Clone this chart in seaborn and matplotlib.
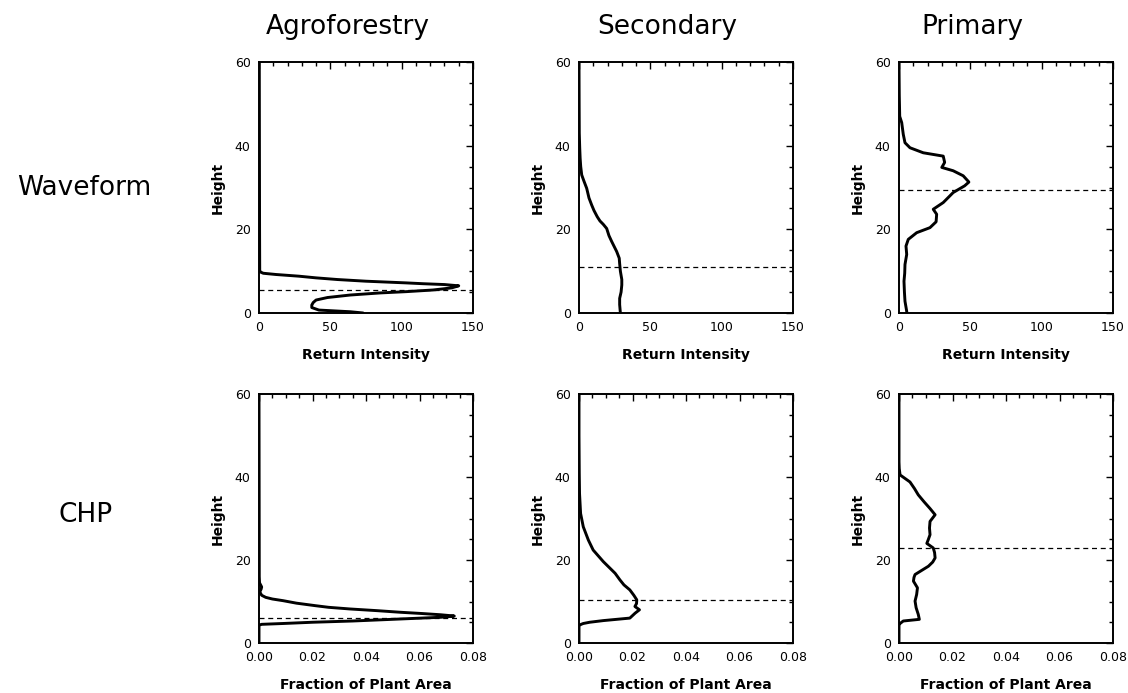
import matplotlib
matplotlib.use("Agg")
import matplotlib.pyplot as plt
import seaborn as sns
from matplotlib.ticker import MultipleLocator, FormatStrFormatter

# ---------------------------------------------------------
# Data (value, height) profiles
# ---------------------------------------------------------
columns = ["Agroforestry", "Secondary", "Primary"]
rows = ["Waveform", "CHP"]

# Waveform: return intensity by height
agro_wave_h = [0, 0.3, 0.7, 1.3, 1.9, 2.5, 3.1, 3.7, 4.3, 4.8, 5.1, 5.5, 6.0, 6.5, 6.8,
               7.0, 7.2, 7.6, 8.0, 8.4, 8.8, 9.2, 9.5, 9.8, 10.2, 20, 40, 60]
agro_wave_v = [73, 64, 42, 37, 37, 38, 40, 48, 64, 85, 103, 122, 135, 140, 130,
               115, 103, 75, 55, 40, 28, 12, 3, 1, 0.5, 0.4, 0.3, 0.2]

sec_wave_h = [0, 2, 3.5, 5, 6.7, 8, 10, 11.8, 13.1, 14.7, 16, 17.1, 18.5, 20.2, 21.2,
              22, 23, 24.5, 25.8, 27.5, 29.8, 31.5, 33, 35, 37, 39.5, 43, 50, 60]
sec_wave_v = [29, 28.5, 28.5, 29.5, 30, 30, 29, 28.5, 28.2, 26.4, 24.5, 22.9, 21, 19.4, 17,
              14.7, 12.8, 10.5, 8.9, 7, 5.4, 3.5, 1.9, 1.2, 0.8, 0.5, 0.2, 0.1, 0]

prim_wave_h = [0, 0.4, 2.8, 5, 7.6, 9.5, 11.6, 14, 16, 17.6, 19.2, 20.4, 21.8, 23.6, 24.8,
               26.4, 28.8, 30.4, 31.3, 32.8, 34, 34.8, 36, 37.5, 38.3, 39.5, 40.7, 42.7,
               45.5, 47, 52, 60]
prim_wave_v = [5.5, 5.4, 4.2, 3.8, 3.5, 4, 4.2, 5.4, 4.9, 6.5, 12.4, 21.7, 26, 26.4, 24,
               31, 38, 46, 49, 45, 38, 30, 32, 31, 17, 7.7, 4.2, 3,
               1.9, 0.5, 0.2, 0]

# CHP: fraction of plant area by height
agro_chp_h = [0, 4.3, 4.5, 4.7, 5.0, 5.3, 5.6, 5.9, 6.2, 6.5, 6.8, 7.1, 7.4, 7.8, 8.2,
              8.6, 9.0, 9.6, 10.2, 10.6, 11, 11.5, 12.3, 13, 13.5, 14, 14.5, 16, 60]
agro_chp_v = [0, 0, 0.001, 0.009, 0.02, 0.035, 0.046, 0.057, 0.068, 0.073, 0.068, 0.061,
              0.053, 0.044, 0.034, 0.026, 0.021, 0.014, 0.009, 0.005, 0.0025, 0.001,
              0.0003, 0.0008, 0.001, 0.0006, 0.0002, 0.0001, 0]

sec_chp_h = [0, 4.2, 4.5, 4.7, 5.0, 5.4, 6.0, 7.2, 8.0, 8.8, 9.5, 10.4, 11.5, 12.8, 14,
             15.2, 16.8, 18.2, 19.6, 21, 22.4, 24.8, 28, 31.2, 36, 40.8, 50, 60]
sec_chp_v = [0, 0, 0.0008, 0.0016, 0.004, 0.0091, 0.019, 0.021, 0.0226, 0.0209, 0.0215,
             0.0216, 0.0205, 0.019, 0.0168, 0.0153, 0.0135, 0.0113, 0.0091, 0.0072,
             0.0053, 0.0035, 0.0016, 0.0006, 0.0002, 0.0001, 0, 0]

prim_chp_h = [0, 4.5, 4.7, 5.3, 5.7, 6.9, 8.5, 10.1, 11.7, 13.3, 14.9, 15.8, 16.5, 17.5,
              18.5, 19.5, 20.5, 21.8, 22.9, 24.0, 25, 26.1, 27.7, 29.3, 30.9, 32.4, 34,
              35.7, 37.2, 38.8, 40.5, 42, 43.6, 50, 60]
prim_chp_v = [0, 0, 0.0004, 0.0016, 0.0076, 0.0072, 0.0064, 0.006, 0.0066, 0.0069, 0.0054,
              0.0056, 0.006, 0.0085, 0.011, 0.0126, 0.0135, 0.0133, 0.0128, 0.0104, 0.011,
              0.0116, 0.0114, 0.0116, 0.0135, 0.0116, 0.0094, 0.0072, 0.0058, 0.0041,
              0.0004, 0.0001, 0, 0, 0]

# Dashed reference heights
wave_mean_h = [5.5, 10.9, 29.4]
chp_mean_h = [6.0, 10.4, 22.9]

# ---------------------------------------------------------
# Plot
# ---------------------------------------------------------
sns.set_style("white", rc={"text.color": "black", "axes.labelcolor": "black",
                           "xtick.color": "black", "ytick.color": "black",
                           "axes.edgecolor": "black"})
plt.rcParams['font.family'] = ['DejaVu Sans']

fig = plt.figure(figsize=(11.28, 6.93), dpi=100)
W, H = 1128, 693

col_left = [259, 579, 899]
panel_w = 214
row_box = [(62, 313), (394, 643)]  # (top, bottom) in pixels

profiles = [
    [(agro_wave_v, agro_wave_h), (sec_wave_v, sec_wave_h), (prim_wave_v, prim_wave_h)],
    [(agro_chp_v, agro_chp_h), (sec_chp_v, sec_chp_h), (prim_chp_v, prim_chp_h)],
]
means = [wave_mean_h, chp_mean_h]
xlabels = ["Return Intensity", "Fraction of Plant Area"]

for r in range(2):
    top, bottom = row_box[r]
    for c in range(3):
        ax = fig.add_axes([col_left[c] / W, 1 - bottom / H, panel_w / W, (bottom - top) / H])
        v, h = profiles[r][c]
        sns.lineplot(x=v, y=h, sort=False, estimator=None, color="black",
                     linewidth=2.1, ax=ax)
        ax.axhline(means[r][c], color="black", linewidth=0.9, linestyle=(0, (4, 3)))

        ax.set_ylim(0, 60)
        if r == 0:
            ax.set_xlim(0, 150)
            ax.xaxis.set_major_locator(MultipleLocator(50))
            ax.xaxis.set_minor_locator(MultipleLocator(10))
        else:
            ax.set_xlim(0, 0.08)
            ax.xaxis.set_major_locator(MultipleLocator(0.02))
            ax.xaxis.set_minor_locator(MultipleLocator(0.005))
            ax.xaxis.set_major_formatter(FormatStrFormatter("%.2f"))
        ax.yaxis.set_major_locator(MultipleLocator(20))
        ax.yaxis.set_minor_locator(MultipleLocator(5))

        ax.tick_params(which="both", direction="in", top=True, right=True,
                       labelsize=9, pad=6, width=1, colors="black")
        ax.tick_params(which="major", length=5)
        ax.tick_params(which="minor", length=3)
        for s in ax.spines.values():
            s.set_color("black")
            s.set_linewidth(1.4)

        ax.set_ylabel("Height", fontsize=10, fontweight="bold", labelpad=7)
        ax.set_xlabel(xlabels[r], fontsize=10, fontweight="bold", labelpad=10)

# Column titles
title_x = [348, 667, 972]
for c in range(3):
    fig.text(title_x[c] / W, 1 - 27 / H, columns[c], fontsize=19,
             ha="center", va="center", color="black")

# Row labels
fig.text(84 / W, 1 - 188 / H, rows[0], fontsize=19, ha="center", va="center", color="black")
fig.text(86 / W, 1 - 515 / H, rows[1], fontsize=19, ha="center", va="center", color="black")

fig.savefig("out.png", dpi=100, facecolor="white")
